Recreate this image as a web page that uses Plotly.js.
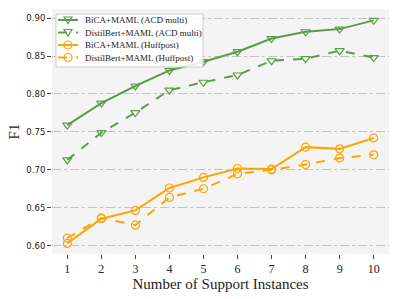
<!DOCTYPE html>
<html><head><meta charset="utf-8">
<script src="https://cdn.plot.ly/plotly-3.0.1.min.js"></script>
<style>html,body{margin:0;padding:0;background:#fff}#c{width:399px;height:299px}</style>
</head><body><div id="c"></div>
<script>
const supportInstances = [1,2,3,4,5,6,7,8,9,10];
const bicaAcd = [0.759,0.788,0.8105,0.831,0.8425,0.8557,0.873,0.882,0.8855,0.897];
const distilAcd = [0.713,0.749,0.7754,0.805,0.8154,0.825,0.8438,0.8465,0.857,0.848];
const bicaHuff = [0.603,0.6355,0.6465,0.676,0.690,0.7017,0.701,0.7299,0.7276,0.742];
const distilHuff = [0.610,0.6365,0.627,0.6636,0.675,0.6947,0.700,0.707,0.7154,0.7197];
const seriesNames = ['BiCA+MAML (ACD multi)','DistilBert+MAML (ACD multi)','BiCA+MAML (Huffpost)','DistilBert+MAML (Huffpost)'];
const yTicks = [0.60,0.65,0.70,0.75,0.80,0.85,0.90];

const green = '#5f9b4a', orange = '#ffa500';
const colors = [green, green, orange, orange];
const dashes = ['solid','dash','solid','dash'];
const symbols = ['triangle-down-open','triangle-down-open','circle-open','circle-open'];
const seriesY = [bicaAcd, distilAcd, bicaHuff, distilHuff];

const data = seriesY.map((y,i)=>({x: supportInstances, y: y, name: seriesNames[i], type:'scatter', mode:'lines+markers',
    line:{color:colors[i], width:2, dash:dashes[i]},
    marker:{symbol:symbols[i], size:8, color:colors[i], line:{color:colors[i], width:1.2}},
    showlegend:false}));

const W=399,H=299, M={l:52,r:10,t:9,b:45};
const pw = W-M.l-M.r, ph = H-M.t-M.b;
const px = x => (x-M.l)/pw;
const py = y => (M.t+ph-y)/ph;

const serif = 'Liberation Serif, Times New Roman, serif';
const shapes = [];
const annotations = [];
// legend box
shapes.push({type:'rect', xref:'paper', yref:'paper', x0:px(56), x1:px(203), y0:py(67), y1:py(14),
  fillcolor:'rgba(255,255,255,0.85)', line:{color:'#d0d0d0', width:1}, layer:'above'});
const rowY = [20, 32.5, 45, 57.5];
seriesNames.forEach((n,i)=>{
  const y = rowY[i];
  shapes.push({type:'line', xref:'paper', yref:'paper', x0:px(58), x1:px(78), y0:py(y), y1:py(y),
    line:{color:colors[i], width:2, dash:dashes[i]==='dash'?'dash':'solid'}, layer:'above'});
  if (symbols[i].startsWith('triangle')) {
    const cx=68, cy=y;
    const path = `M ${px(cx-4)} ${py(cy-3)} L ${px(cx+4)} ${py(cy-3)} L ${px(cx)} ${py(cy+3.5)} Z`;
    shapes.push({type:'path', xref:'paper', yref:'paper', path:path, fillcolor:'rgba(0,0,0,0)',
      line:{color:colors[i], width:1.2}, layer:'above'});
  } else {
    shapes.push({type:'circle', xref:'paper', yref:'paper', x0:px(64), x1:px(72), y0:py(y+4), y1:py(y-4),
      fillcolor:'rgba(255,255,255,0)', line:{color:colors[i], width:1.2}, layer:'above'});
  }
  annotations.push({xref:'paper', yref:'paper', x:px(83), y:py(y), xanchor:'left', yanchor:'middle',
    text:n, showarrow:false, font:{family:serif, size:9, color:'#222'}});
});

const layout = {
  width:W, height:H,
  margin:M,
  paper_bgcolor:'#fff', plot_bgcolor:'#f4f4f4',
  showlegend:false,
  shapes:shapes, annotations:annotations,
  xaxis:{range:[0.55,10.45], tickvals:supportInstances, ticks:'outside', ticklen:4, tickcolor:'#444',
    showgrid:false, zeroline:false, showline:false,
    tickfont:{family:serif, size:12, color:'#222'},
    title:{text:'Number of Support Instances', font:{family:serif, size:15, color:'#222'}, standoff:3}},
  yaxis:{range:[0.589,0.912], tickvals:yTicks, ticktext:yTicks.map(v=>v.toFixed(2)),
    ticks:'outside', ticklen:4, tickcolor:'#444',
    showgrid:true, gridcolor:'#c4c4c4', griddash:'dashdot', gridwidth:1,
    zeroline:false, showline:false,
    tickfont:{family:'DejaVu Sans, sans-serif', size:8.5, color:'#222'},
    title:{text:'F1', font:{family:serif, size:15, color:'#222'}, standoff:3}}
};
Plotly.newPlot('c', data, layout, {displayModeBar:false, staticPlot:true});
</script></body></html>
